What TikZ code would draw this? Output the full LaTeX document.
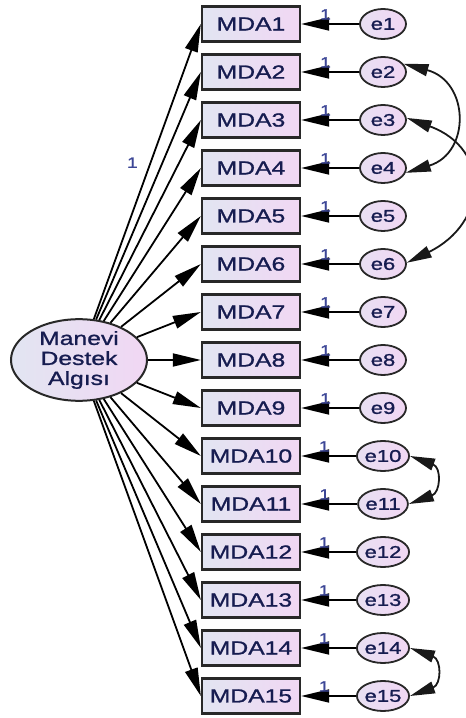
\documentclass[tikz,border=0pt]{standalone}
\usepackage{fontspec}
\newfontfamily\amosfont{Liberation Sans}[FakeStretch=1.3, FakeBold=1.2]
\usetikzlibrary{arrows.meta,shapes.geometric}
\definecolor{shadeL}{RGB}{226,229,242}
\definecolor{shadeR}{RGB}{241,215,243}
\definecolor{txtcol}{RGB}{22,28,80}
\definecolor{rimcol}{RGB}{40,40,40}
\definecolor{onecol}{RGB}{60,70,150}

\begin{document}
\begin{tikzpicture}[x=1pt, y=1pt,
	obs/.style={draw=rimcol, line width=2.3pt, left color=shadeL, right color=shadeR, minimum width=98pt, minimum height=35pt, inner sep=0pt, text=txtcol, font=\amosfont\fontsize{19}{20}\selectfont},
	err/.style={ellipse, draw=rimcol, line width=1.8pt, left color=shadeL!60!shadeR, right color=shadeR, minimum width=46pt, minimum height=30pt, inner sep=0pt, text=txtcol, font=\amosfont\fontsize{17}{18}\selectfont},
	latent/.style={ellipse, draw=rimcol, line width=2pt, left color=shadeL, right color=shadeR, minimum width=136pt, minimum height=80pt, inner sep=0pt, align=center, text=txtcol, font=\amosfont\fontsize{19}{20}\selectfont},
	load/.style={line width=1.8pt, -{Triangle[length=28pt, width=13pt]}},
	cov/.style={line width=1.8pt, black!90, {Triangle[length=25pt, width=12pt]}-{Triangle[length=25pt, width=12pt]}},
	lbl/.style={text=onecol, font=\amosfont\fontsize{15}{15}\selectfont, inner sep=0.5pt}]
	\useasboundingbox (0,0) rectangle (466,718);
	% latent factor
	\node[latent] (lat) at (79,358) {Manevi\\Destek\\Algısı};
	% indicators and their errors
	\foreach \i in {1,...,15} {
		\node[obs] (m\i) at (251,{694-48*(\i-1)}) {MDA\i};
		\node[err] (e\i) at (383,{694-48*(\i-1)}) {e\i};
		\draw[load] (lat) -- (m\i.west);
		\draw[load] (e\i) -- (m\i.east) node[pos=0.58, above=3pt, lbl]{1};
	}
	\path (lat) -- (m1.west) node[pos=0.53, left=12pt, lbl]{1};
	% error covariances
	\draw[cov] (e2.22) to[out=-15, in=17, looseness=1.6] (e4.-12);
	\draw[cov] (e3.5) to[out=-20, in=26, looseness=1.6] (e6.3);
	\draw[cov] (e10.0) to[out=-20, in=20, looseness=1.8] (e11.0);
	\draw[cov] (e14.0) to[out=-20, in=20, looseness=1.8] (e15.0);
\end{tikzpicture}
\end{document}
